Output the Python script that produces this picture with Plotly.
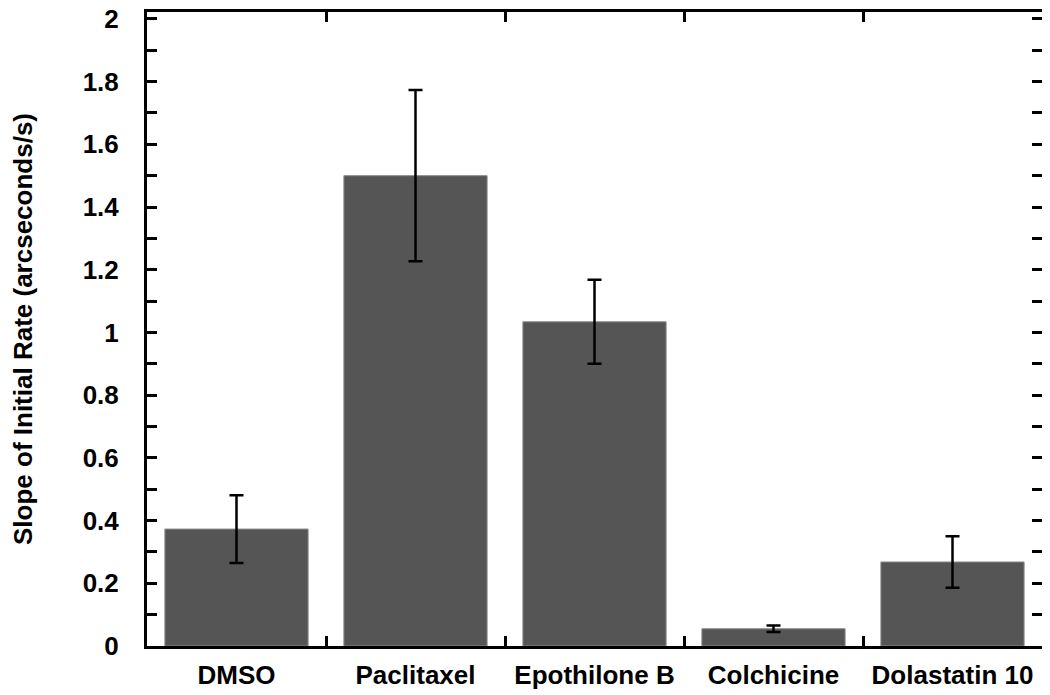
import plotly.graph_objects as go

categories = ["DMSO", "Paclitaxel", "Epothilone B", "Colchicine", "Dolastatin 10"]
values = [0.373, 1.5, 1.034, 0.055, 0.268]
errors = [0.108, 0.273, 0.134, 0.010, 0.082]
y_tickvals = [0, 0.2, 0.4, 0.6, 0.8, 1, 1.2, 1.4, 1.6, 1.8, 2]
y_ticktext = ["0", "0.2", "0.4", "0.6", "0.8", "1", "1.2", "1.4", "1.6", "1.8", "2"]

FONT = "Liberation Sans, Arial, Helvetica, sans-serif"

fig = go.Figure(
    go.Bar(
        x=categories,
        y=values,
        width=0.8,
        marker=dict(color="#555555", line=dict(color="#8a8a8a", width=1)),
        error_y=dict(type="data", array=errors, visible=True,
                     color="black", thickness=2.5, width=7),
    )
)

# page body has an 8px default margin, so the figure is sized/offset to compensate
fig.update_layout(
    width=1042, height=687,
    margin=dict(l=139, r=8, t=4, b=49),
    paper_bgcolor="white", plot_bgcolor="white",
    showlegend=False,
    font=dict(family=FONT, color="black"),
)

fig.update_xaxes(
    type="category", range=[-0.5, 4.5], automargin=False,
    showline=True, linecolor="black", linewidth=3, mirror="allticks",
    ticks="inside", ticklen=10, tickwidth=2.5, tickcolor="black",
    tickson="boundaries",
    tickfont=dict(family=FONT, size=26, color="black", weight="bold"),
    ticklabelstandoff=4, ticklabeloverflow="allow",
    showgrid=False, zeroline=False,
)

fig.update_yaxes(
    range=[0, 2.022], automargin=False,
    tickvals=y_tickvals, ticktext=y_ticktext,
    showline=True, linecolor="black", linewidth=3, mirror="allticks",
    ticks="inside", ticklen=10, tickwidth=2.5, tickcolor="black",
    minor=dict(dtick=0.1, tick0=0, ticks="inside", ticklen=10, tickwidth=2.5, tickcolor="black", showgrid=False),
    tickfont=dict(family=FONT, size=26, color="black", weight="bold"),
    ticklabelstandoff=20, ticklabeloverflow="allow",
    showgrid=False, zeroline=False,
    title=dict(text="Slope of Initial Rate (arcseconds/s)",
               font=dict(family=FONT, size=26, color="black", weight="bold"),
               standoff=52),
)

fig.write_html("out.html")
